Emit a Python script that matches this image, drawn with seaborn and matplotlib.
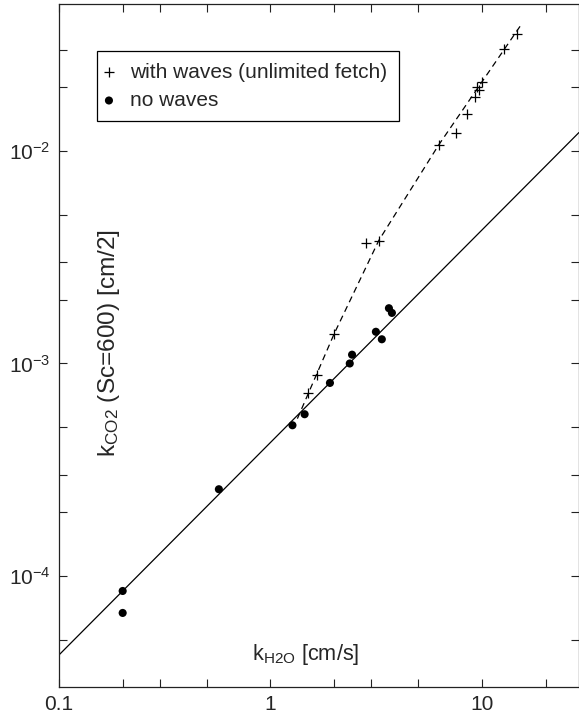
import numpy as np
import pandas as pd
import matplotlib
matplotlib.use("Agg")
import matplotlib.pyplot as plt
import matplotlib.ticker as mticker
import seaborn as sns

x_waves = [1.50, 1.66, 1.99, 2.82, 3.25, 6.25, 7.5, 8.5, 9.3, 9.5, 9.7, 9.95, 12.7, 14.6]
y_waves = [7.3e-4, 8.8e-4, 1.38e-3, 3.68e-3, 3.79e-3, 1.07e-2, 1.21e-2, 1.50e-2,
           1.79e-2, 2.0e-2, 1.94e-2, 2.12e-2, 3.02e-2, 3.56e-2]

x_nowaves = [0.20, 0.20, 0.57, 1.27, 1.45, 1.91, 2.37, 2.43, 3.15, 3.36, 3.63, 3.75]
y_nowaves = [8.5e-5, 6.7e-5, 2.56e-4, 5.12e-4, 5.77e-4, 8.1e-4, 1.0e-3, 1.10e-3,
             1.41e-3, 1.30e-3, 1.82e-3, 1.73e-3]

# fitted curves (end points / points)
fit_x = [0.1, 28.75]
fit_y = [4.25e-5, 1.222e-2]
wave_fit_x = [1.34, 2.0, 3.25, 6.25, 15.4]
wave_fit_y = [5.5e-4, 1.38e-3, 3.79e-3, 1.07e-2, 3.96e-2]

sns.set_style("ticks")
plt.rcParams['font.family'] = ['Liberation Sans', 'DejaVu Sans']
plt.rcParams['mathtext.fontset'] = 'custom'
plt.rcParams['mathtext.rm'] = 'Liberation Sans'
plt.rcParams['mathtext.it'] = 'Liberation Sans:italic'
plt.rcParams['mathtext.default'] = 'regular'

fig = plt.figure(figsize=(5.79, 7.17), dpi=100)
ax = fig.add_axes([59 / 579, 30 / 717, 520 / 579, 683 / 717])

df_fit = pd.DataFrame({'x': fit_x, 'y': fit_y})
df_wfit = pd.DataFrame({'x': wave_fit_x, 'y': wave_fit_y})
sns.lineplot(data=df_fit, x='x', y='y', ax=ax, color='k', lw=0.9, sort=False)
sns.lineplot(data=df_wfit, x='x', y='y', ax=ax, color='k', lw=0.9, sort=False,
             linestyle=(0, (5, 3.5)))

sns.scatterplot(x=x_waves, y=y_waves, ax=ax, marker='+', color='k', s=55,
                linewidth=0.9, label='with waves (unlimited fetch)')
sns.scatterplot(x=x_nowaves, y=y_nowaves, ax=ax, marker='o', color='k', s=34,
                edgecolor='none', label='no waves')

ax.set_xscale('log')
ax.set_yscale('log')
ax.set_xlim(0.1, 28.75)
ax.set_ylim(3.003e-5, 4.917e-2)

ax.xaxis.set_major_locator(mticker.FixedLocator([0.1, 1, 10]))
ax.xaxis.set_major_formatter(mticker.FixedFormatter(['0.1', '1', '10']))
ax.xaxis.set_minor_locator(mticker.LogLocator(base=10, subs=[2, 3, 5]))
ax.xaxis.set_minor_formatter(mticker.NullFormatter())
ax.yaxis.set_major_locator(mticker.LogLocator(base=10, numticks=10))
ax.yaxis.set_major_formatter(mticker.LogFormatterMathtext())
ax.yaxis.set_minor_locator(mticker.LogLocator(base=10, subs=[2, 3, 5], numticks=10))
ax.yaxis.set_minor_formatter(mticker.NullFormatter())

ax.tick_params(which='both', direction='in', top=True, right=True,
               length=5.8, width=0.8, color='#222222', labelsize=15, pad=6)
for sp in ax.spines.values():
    sp.set_linewidth(0.9)
    sp.set_color('#222222')

ax.set_xlabel('')
ax.set_ylabel('')
ax.text(0.475, 0.0395, r'k$_{H2O}$ [cm/s]', transform=ax.transAxes,
        ha='center', va='baseline', fontsize=15.7)
ax.text(0.097, 0.503, r'k$_{CO2}$ (Sc=600) [cm/2]', transform=ax.transAxes,
        ha='center', va='center', rotation=90, fontsize=17.6)

leg = ax.legend(loc='upper left', bbox_to_anchor=(0.073, 0.931), borderaxespad=0,
                fontsize=15, frameon=True, fancybox=False, edgecolor='k',
                framealpha=1, borderpad=0.55, handlelength=0.05,
                handletextpad=1.0, labelspacing=0.45, scatterpoints=1)
leg.get_frame().set_linewidth(0.9)

plt.savefig('out.png', dpi=100)
